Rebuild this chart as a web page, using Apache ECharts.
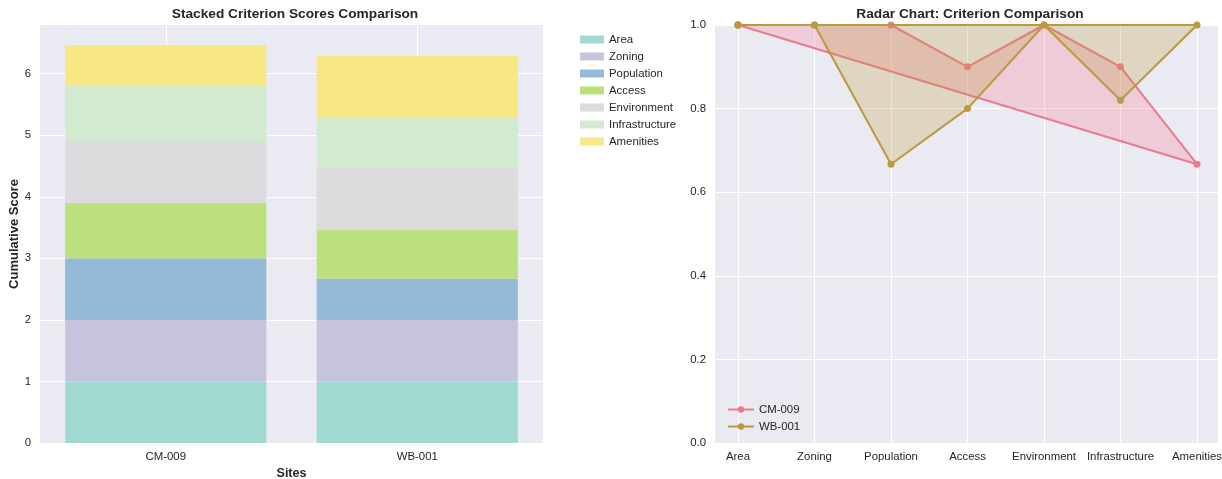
<!DOCTYPE html>
<html><head><meta charset="utf-8">
<script src="https://cdn.jsdelivr.net/npm/echarts@6/dist/echarts.min.js"></script>
<style>html,body{margin:0;padding:0;background:#fff}#c{width:1222px;height:479px}</style>
</head><body><div id="c"></div>
<script>
const sites = ['CM-009', 'WB-001'];
const criteria = ['Area', 'Zoning', 'Population', 'Access', 'Environment', 'Infrastructure', 'Amenities'];
const cm009 = [1.0, 1.0, 1.0, 0.9, 1.0, 0.9, 0.667];
const wb001 = [1.0, 1.0, 0.667, 0.8, 1.0, 0.82, 1.0];
const stackTicks = [0, 1, 2, 3, 4, 5, 6];
const radarTicks = [0, 0.2, 0.4, 0.6, 0.8, 1.0];

const barColors = ['#9fd9cf', '#c6c3dc', '#95bad7', '#bde07e', '#dcdbdd', '#d2eacf', '#f7e883'];
const siteColors = ['#ec7a8f', '#b99a3e'];
const siteFills = ['rgba(247,113,137,0.25)', 'rgba(187,152,50,0.25)'];
const siteData = [cm009, wb001];

const FONT = 'Liberation Sans';
const txt = '#262626';
const TICK = 11.4;

const series = [];
criteria.forEach((c, i) => {
  series.push({
    type: 'bar', name: c, stack: 'total', xAxisIndex: 0, yAxisIndex: 0,
    data: siteData.map(d => d[i]),
    barCategoryGap: '20%',
    itemStyle: { color: barColors[i] },
    emphasis: { disabled: true }, z: 3
  });
});

siteData.forEach((d, s) => {
  const pts = d.map((v, i) => [i, v]);
  pts.push([0, d[0]]);
  series.push({
    type: 'custom', name: sites[s] + ' fill', xAxisIndex: 3, yAxisIndex: 3,
    coordinateSystem: 'cartesian2d', data: [[0, 0]], z: 2 + s * 2, silent: true,
    renderItem: function (params, api) {
      const points = pts.map(p => api.coord(p));
      return { type: 'polygon', shape: { points: points }, style: { fill: siteFills[s], stroke: null } };
    }
  });
  series.push({
    type: 'line', name: sites[s], xAxisIndex: 3, yAxisIndex: 3, data: pts,
    symbol: 'circle', symbolSize: 7, z: 3 + s * 2,
    lineStyle: { color: siteColors[s], width: 2 },
    itemStyle: { color: siteColors[s] },
    emphasis: { disabled: true }
  });
});

const gridBase = { outerBoundsMode: 'none', containLabel: false };
const option = {
  animation: false,
  textStyle: { fontFamily: FONT },
  title: [
    { text: 'Stacked Criterion Scores Comparison', left: 290, top: 2, textAlign: 'center',
      textStyle: { fontFamily: FONT, fontSize: 13.7, fontWeight: 'bold', color: txt } },
    { text: 'Radar Chart: Criterion Comparison', left: 965, top: 2, textAlign: 'center',
      textStyle: { fontFamily: FONT, fontSize: 13.7, fontWeight: 'bold', color: txt } }
  ],
  legend: [
    { data: criteria, orient: 'vertical', left: 575, top: 28, itemWidth: 24, itemHeight: 8, itemGap: 4,
      icon: 'rect', textStyle: { fontFamily: FONT, fontSize: TICK, lineHeight: 13, color: txt } },
    { data: sites, orient: 'vertical', left: 722, top: 398, itemWidth: 26, itemHeight: 8, itemGap: 4,
      textStyle: { fontFamily: FONT, fontSize: TICK, lineHeight: 13, color: txt } }
  ],
  grid: [
    Object.assign({ left: 40, right: 679, top: 25, bottom: 36, backgroundColor: '#eaeaf2', show: true, borderWidth: 0 }, gridBase),
    Object.assign({ left: 40, right: 679, top: 25, bottom: 36, show: false }, gridBase),
    Object.assign({ left: 715, right: 4, top: 25, bottom: 36, backgroundColor: '#eaeaf2', show: true, borderWidth: 0 }, gridBase),
    Object.assign({ left: 738, right: 25, top: 25, bottom: 36, show: false }, gridBase)
  ],
  xAxis: [
    { type: 'category', gridIndex: 0, data: sites, name: 'Sites', nameLocation: 'middle', nameGap: 23,
      nameTextStyle: { fontFamily: FONT, fontSize: 12.5, fontWeight: 'bold', color: txt },
      axisLine: { show: false }, axisTick: { show: false },
      axisLabel: { fontFamily: FONT, fontSize: TICK, color: txt, margin: 8 }, splitLine: { show: false } },
    { type: 'category', gridIndex: 1, data: ['a', 'b', 'c', 'd', 'e'], boundaryGap: false,
      axisLine: { show: false }, axisTick: { show: false }, axisLabel: { show: false },
      splitLine: { show: true, interval: (i) => i === 1 || i === 3, lineStyle: { color: '#ffffff', width: 1 } } },
    { type: 'value', gridIndex: 2, min: 0, max: 1, show: false },
    { type: 'value', gridIndex: 3, min: 0, max: 6, interval: 1,
      axisLine: { show: false }, axisTick: { show: false },
      axisLabel: { fontFamily: FONT, fontSize: TICK, color: txt, margin: 8, formatter: v => criteria[v] || '' },
      splitLine: { show: true, lineStyle: { color: '#ffffff', width: 1 } } }
  ],
  yAxis: [
    { type: 'value', gridIndex: 0, min: 0, max: 6.79, interval: 1, name: 'Cumulative Score',
      nameLocation: 'middle', nameGap: 18,
      nameTextStyle: { fontFamily: FONT, fontSize: 13, fontWeight: 'bold', color: txt },
      axisLine: { show: false }, axisTick: { show: false },
      axisLabel: { fontFamily: FONT, fontSize: TICK, color: txt, margin: 9, showMaxLabel: false,
        formatter: v => (stackTicks.indexOf(v) >= 0 ? String(v) : '') },
      splitLine: { show: true, showMaxLine: false, lineStyle: { color: '#ffffff', width: 1 } } },
    { type: 'value', gridIndex: 1, min: 0, max: 6.79, show: false },
    { type: 'value', gridIndex: 2, min: 0, max: 1, interval: 0.2,
      axisLine: { show: false }, axisTick: { show: false },
      axisLabel: { fontFamily: FONT, fontSize: TICK, color: txt, margin: 9,
        formatter: v => radarTicks.some(t => Math.abs(t - v) < 1e-9) ? v.toFixed(1) : '' },
      splitLine: { show: true, lineStyle: { color: '#ffffff', width: 1 } } },
    { type: 'value', gridIndex: 3, min: 0, max: 1, show: false }
  ],
  series: series
};
const chart = echarts.init(document.getElementById('c'), null, { renderer: 'canvas' });
chart.setOption(option);
</script></body></html>
